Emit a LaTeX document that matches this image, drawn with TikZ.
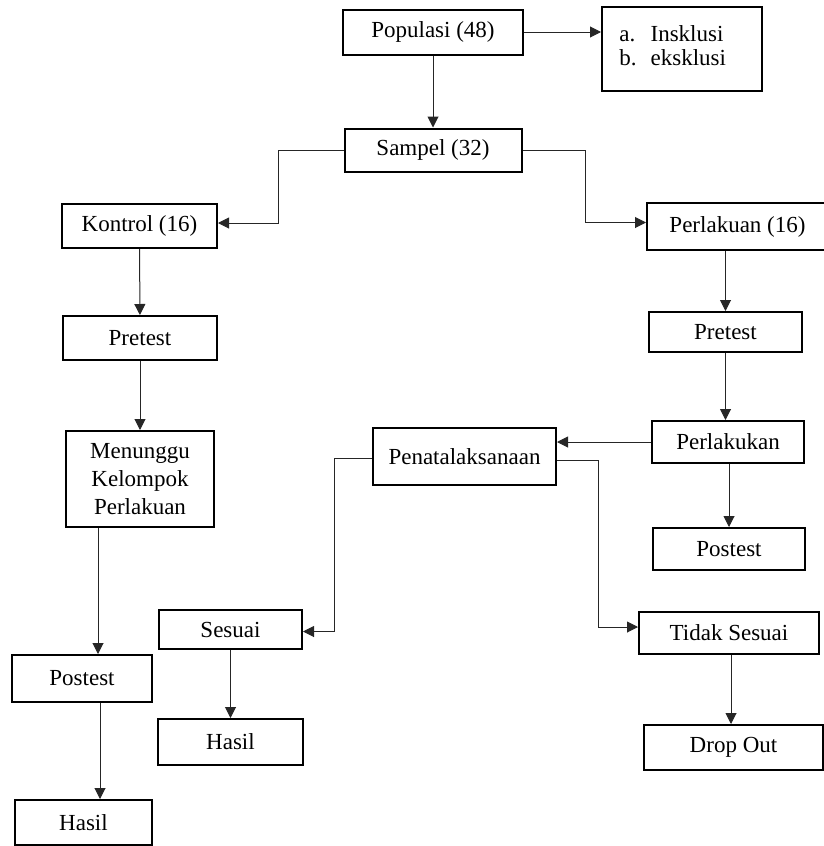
\documentclass[tikz,border=0pt]{standalone}
\usepackage{fontspec}
\setmainfont{Liberation Serif}
\usetikzlibrary{arrows.meta}

\begin{document}
\begin{tikzpicture}[x=0.5pt, y=-0.5pt,
   kotak/.style={draw, line width=1pt, inner sep=0pt, align=center},
   panah/.style={draw=black!85, line width=0.5pt, -{Triangle[length=5.5pt,width=5.5pt]}}]
   \useasboundingbox (0,0) rectangle (824,846);
   \fontsize{11.5}{14}\selectfont

   % baris atas
   \node[kotak, minimum width=90pt, minimum height=22.5pt] (pop) at (433,32) {Populasi (48)};
   \node[kotak, minimum width=80pt, minimum height=42pt] (krit) at (682,49) {};
   \node[anchor=north west, inner sep=0pt] (kritteks) at (619,21)
      {\begin{tabular}{@{}l@{\hspace{7pt}}l@{}}a. & Insklusi\\[-2pt] b. & eksklusi\end{tabular}};
   \node[kotak, minimum width=88.5pt, minimum height=21.5pt] (sampel) at (433,150) {Sampel (32)};

   % kelompok kontrol
   \node[kotak, minimum width=77.5pt, minimum height=22pt] (kontrol) at (139.5,226) {Kontrol (16)};
   \node[kotak, minimum width=77pt, minimum height=22pt] (prekon) at (140,338) {Pretest};
   \node[kotak, minimum width=74pt, minimum height=48pt] (tunggu) at (140,479) {Menunggu\\Kelompok\\Perlakuan};
   \node[kotak, minimum width=70pt, minimum height=23.5pt] (postkon) at (82,678.5) {Postest};
   \node[kotak, minimum width=68.5pt, minimum height=22.5pt] (hasilkon) at (83.5,822.5) {Hasil};

   % kelompok perlakuan
   \node[kotak, minimum width=90.5pt, minimum height=23.5pt] (perl) at (737.5,226.5) {Perlakuan (16)};
   \node[kotak, minimum width=76.5pt, minimum height=20pt] (preper) at (725.5,332) {Pretest};
   \node[kotak, minimum width=76pt, minimum height=21pt] (perlakukan) at (728,442) {Perlakukan};
   \node[kotak, minimum width=76pt, minimum height=21pt] (postper) at (729,549) {Postest};
   \node[kotak, minimum width=91.5pt, minimum height=28.5pt] (penata) at (464.5,456.5) {Penatalaksanaan};
   \node[kotak, minimum width=71.5pt, minimum height=19.5pt] (sesuai) at (230.5,629.5) {Sesuai};
   \node[kotak, minimum width=72.5pt, minimum height=23pt] (hasilses) at (230.5,742) {Hasil};
   \node[kotak, minimum width=90pt, minimum height=21pt] (tidak) at (729,633) {Tidak Sesuai};
   \node[kotak, minimum width=89.5pt, minimum height=22.5pt] (drop) at (733.5,747.5) {Drop Out};

   % panah
   \draw[panah] (pop) -- (sampel);
   \draw[panah] (pop.east) -- (pop.east -| krit.west);
   \draw[panah] (sampel.west) -- ++(-65,0) |- ([yshift=1.5pt]kontrol.east);
   \draw[panah] (sampel.east) -- ++(63,0) |- ([yshift=2pt]perl.west);

   \draw[panah] (kontrol) -- (prekon);
   \draw[panah] (prekon) -- (tunggu);
   \draw[panah] ([xshift=-21pt]tunggu.south) -- ([xshift=-21pt]tunggu.south |- postkon.north);
   \draw[panah] ([xshift=9pt]postkon.south) -- ([xshift=9pt]postkon.south |- hasilkon.north);

   \draw[panah] (preper.north |- perl.south) -- (preper.north);
   \draw[panah] (preper.south) -- (preper.south |- perlakukan.north);
   \draw[panah] (postper.north |- perlakukan.south) -- (postper.north);
   \draw[panah] (perlakukan.west) -- (perlakukan.west -| penata.east);

   \draw[panah] ([yshift=-1pt]penata.west) -- ++(-38,0) |- ([yshift=-1pt]sesuai.east);
   \draw[panah] ([yshift=-2pt]penata.east) -- ++(41,0) |- ([yshift=3pt]tidak.west);
   \draw[panah] (sesuai) -- (hasilses);
   \draw[panah] ([xshift=1pt]tidak.south) -- ([xshift=1pt]tidak.south |- drop.north);
\end{tikzpicture}
\end{document}
